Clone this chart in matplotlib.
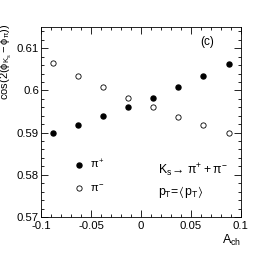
import numpy as np
import matplotlib
matplotlib.use('Agg')
from matplotlib import pyplot as plt
from matplotlib.ticker import MultipleLocator

# данные
a_ch = [-0.088, -0.063, -0.038, -0.013, 0.012, 0.037, 0.062, 0.088]
pi_plus = [0.5900, 0.5918, 0.5939, 0.5960, 0.5983, 0.6008, 0.6035, 0.6063]
pi_minus = [0.6064, 0.6035, 0.6009, 0.5983, 0.5960, 0.5938, 0.5918, 0.5900]

plt.rcParams['font.family'] = ['Liberation Sans', 'DejaVu Sans']
plt.rcParams['mathtext.fontset'] = 'custom'
plt.rcParams['mathtext.rm'] = 'Liberation Sans'
plt.rcParams['mathtext.it'] = 'Liberation Sans'

fig = plt.figure(figsize=(2.68, 2.58), dpi=100)
ax = fig.add_axes([0.153, 0.159, 0.746, 0.736])

ax.plot(a_ch, pi_plus, 'o', color='black', markersize=3.6, label=r'$\pi^{+}$')
ax.plot(a_ch, pi_minus, 'o', mfc='white', mec='black', mew=0.6, markersize=3.8, label=r'$\pi^{-}$')

ax.set_xlim(-0.1, 0.1)
ax.set_ylim(0.57, 0.615)
ax.xaxis.set_minor_locator(MultipleLocator(0.01))
ax.yaxis.set_minor_locator(MultipleLocator(0.002))
ax.set_xticks([-0.1, -0.05, 0, 0.05, 0.1], labels=['-0.1', '-0.05', '0', '0.05', '0.1'])
ax.set_yticks([0.57, 0.58, 0.59, 0.6, 0.61], labels=['0.57', '0.58', '0.59', '0.6', '0.61'])
ax.tick_params(which='both', direction='in', top=True, right=True, labelsize=8.2, width=0.6)
ax.tick_params(axis='x', pad=3)
ax.tick_params(axis='y', pad=1.5)
ax.tick_params(which='major', length=5)
ax.tick_params(which='minor', length=2.5)
for s in ax.spines.values():
    s.set_linewidth(0.6)

ax.set_xlabel(r'$\mathregular{A_{ch}}$', fontsize=9, loc='right', labelpad=1)
ax.set_ylabel(r'$\mathregular{cos(2(\phi_{K_{s}}-\phi_{\pi}))}$', fontsize=8, loc='top', labelpad=0)
ax.yaxis.set_label_coords(-0.135, 1.02, transform=ax.transAxes)
ax.yaxis.label.set_horizontalalignment('right')

ax.text(0.0595, 0.6114, '(c)', fontsize=8.5, va='center')
ax.legend(loc='lower left', bbox_to_anchor=(0.11, 0.07), frameon=False, fontsize=8,
          handletextpad=0.5, labelspacing=1.0, handlelength=1.0)
ax.text(0.017, 0.581, r'$\mathregular{K_{s}\!\rightarrow\, \pi^{+} + \pi^{-}}$', fontsize=8.8, va='center')
ax.text(0.017, 0.5759, r'$\mathregular{p_{T}\!=\!\langle\, p_{T}\rangle}$', fontsize=8.8, va='center')

fig.savefig('out.png', dpi=100)
